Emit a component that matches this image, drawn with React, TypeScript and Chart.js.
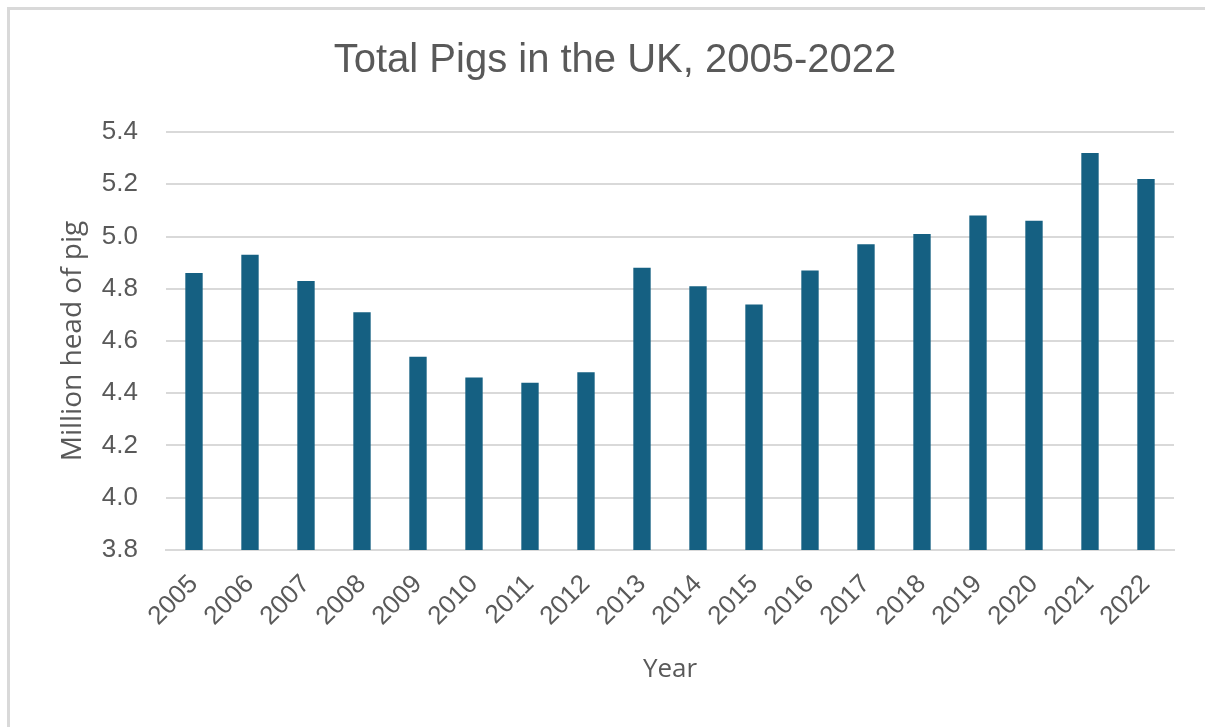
import React, { useEffect, useRef } from "react";
import { Chart, registerables } from "chart.js";

Chart.register(...registerables);

const years: string[] = [
  "2005", "2006", "2007", "2008", "2009", "2010", "2011", "2012", "2013",
  "2014", "2015", "2016", "2017", "2018", "2019", "2020", "2021", "2022",
];
const pigs: number[] = [
  4.86, 4.93, 4.83, 4.71, 4.54, 4.46, 4.44, 4.48, 4.88,
  4.81, 4.74, 4.87, 4.97, 5.01, 5.08, 5.06, 5.32, 5.22,
];
const yMin = 3.8;
const yMax = 5.4;
const yStep = 0.2;
const chartTitle = "Total Pigs in the UK, 2005-2022";
const yTitle = "Million head of pig";
const xTitle = "Year";

const TEXT = "#595959";
const GRID = "#d9d9d9";
const BAR = "#156082";

export default function App() {
  const ref = useRef<HTMLCanvasElement | null>(null);

  useEffect(() => {
    if (!ref.current) return;
    const chart = new Chart(ref.current, {
      type: "bar",
      data: {
        labels: years,
        datasets: [
          {
            data: pigs,
            backgroundColor: BAR,
            borderWidth: 0,
            barPercentage: 0.31,
            categoryPercentage: 1,
          },
        ],
      },
      options: {
        responsive: false,
        animation: false,
        layout: { padding: { left: 56, right: 31, top: 0, bottom: 0 } },
        plugins: {
          legend: { display: false },
          tooltip: { enabled: false },
          title: {
            display: true,
            text: chartTitle,
            color: TEXT,
            font: { family: "'Liberation Sans', Arial, sans-serif", size: 40, weight: "normal" },
            padding: { top: 37, bottom: 47 },
          },
        },
        scales: {
          x: {
            grid: { display: false, drawTicks: false },
            border: { display: true, color: GRID, width: 2 },
            ticks: {
              color: TEXT,
              font: { family: "'Liberation Sans', Arial, sans-serif", size: 26 },
              minRotation: 45,
              maxRotation: 45,
              padding: 19,
              autoSkip: false,
            },
            title: {
              display: true,
              text: xTitle,
              color: TEXT,
              font: { family: "'Open Sans', sans-serif", size: 26 },
              padding: { top: 0, bottom: 42 },
            },
            afterFit: (scale: any) => {
              scale.height = 177;
            },
          },
          y: {
            min: yMin,
            max: yMax,
            grid: { color: GRID, lineWidth: 2, drawTicks: false },
            border: { display: false },
            ticks: {
              stepSize: yStep,
              color: TEXT,
              padding: 28,
              font: { family: "'Liberation Sans', Arial, sans-serif", size: 26 },
              callback: (v: any) => Number(v).toFixed(1),
            },
            title: {
              display: true,
              text: yTitle,
              color: TEXT,
              font: { family: "'Open Sans', sans-serif", size: 28 },
              padding: { top: 0, bottom: 0 },
            },
            afterFit: (scale: any) => {
              scale.width = 110;
            },
          },
        },
      },
    });
    return () => chart.destroy();
  }, []);

  return (
    <div
      style={{
        position: "fixed",
        left: 0,
        top: 0,
        width: 1205,
        height: 727,
        overflow: "hidden",
        background: "#ffffff",
      }}
    >
      <div
        style={{
          position: "absolute",
          left: 7,
          top: 7,
          width: 1400,
          height: 900,
          border: `3px solid ${GRID}`,
          boxSizing: "border-box",
        }}
      />
      <canvas
        ref={ref}
        width={1205}
        height={727}
        style={{ position: "absolute", left: 0, top: 0, width: 1205, height: 727 }}
      />
    </div>
  );
}
